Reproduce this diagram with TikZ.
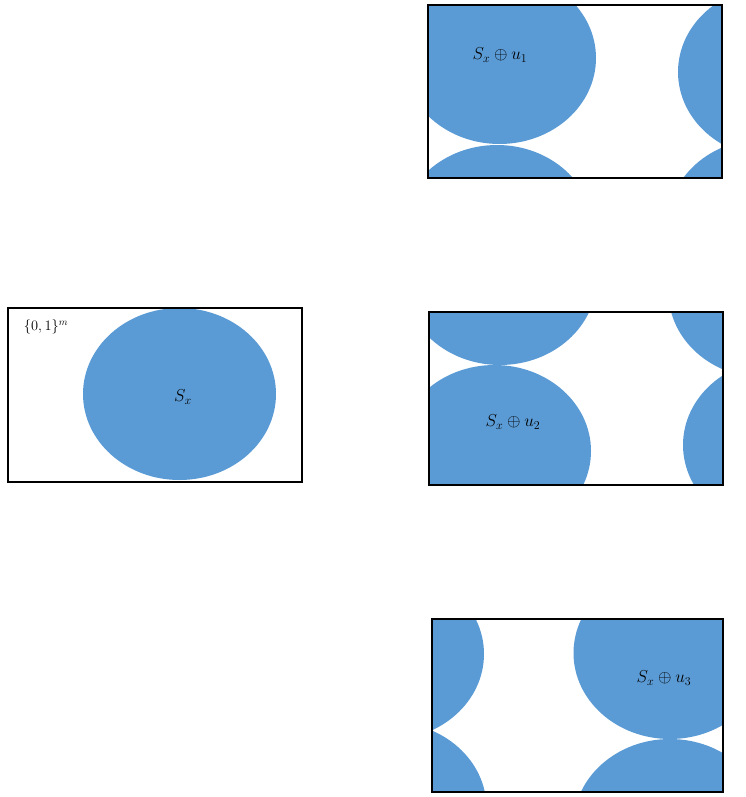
\documentclass[tikz,border=0pt]{standalone}
\usepackage{xcolor}
\definecolor{setblue}{HTML}{5B9BD5}
\tikzset{
  frame/.style={draw=black, line width=2.8pt},
  blob/.style={fill=setblue},
  lbl/.style={inner sep=0pt, font=\fontsize{14.4}{17}\selectfont},
  oplbl/.style={inner sep=0pt, font=\fontsize{17.28}{20}\selectfont},
}
\newcommand{\blobat}[2]{\fill[blob] (#1,#2) ellipse [x radius=96.5, y radius=86];}
\begin{document}
\begin{tikzpicture}[x=1pt, y=-1pt]
\useasboundingbox (0,0) rectangle (745,797);
% left box
\begin{scope}
  \clip (8,308) rectangle (302,482);
  \blobat{179.5}{394}
\end{scope}
\draw[frame] (8,308) rectangle (302,482);
\node[lbl] (space) at (46,327) {$\{0,1\}^m$};
\node[oplbl] (sx) at (183,397) {$S_x$};
% box 1
\begin{scope}
  \clip (428,5) rectangle (722,178);
  \blobat{499.5}{58}
  \blobat{497}{231}
  \blobat{774.5}{72}
  \blobat{764}{225}
\end{scope}
\draw[frame] (428,5) rectangle (722,178);
\node[oplbl] (u1) at (500,55) {$S_x\oplus u_1$};
% box 2
\begin{scope}
  \clip (429,312) rectangle (723,485);
  \blobat{500}{279}
  \blobat{494.5}{451}
  \blobat{765}{292}
  \blobat{779.5}{445}
\end{scope}
\draw[frame] (429,312) rectangle (723,485);
\node[oplbl] (u2) at (513,422) {$S_x\oplus u_2$};
% box 3
\begin{scope}
  \clip (432,619) rectangle (723,792);
  \blobat{670}{653}
  \blobat{670}{825}
  \blobat{387.5}{654}
  \blobat{390}{808}
\end{scope}
\draw[frame] (432,619) rectangle (723,792);
\node[oplbl] (u3) at (664,678) {$S_x\oplus u_3$};
\end{tikzpicture}
\end{document}
